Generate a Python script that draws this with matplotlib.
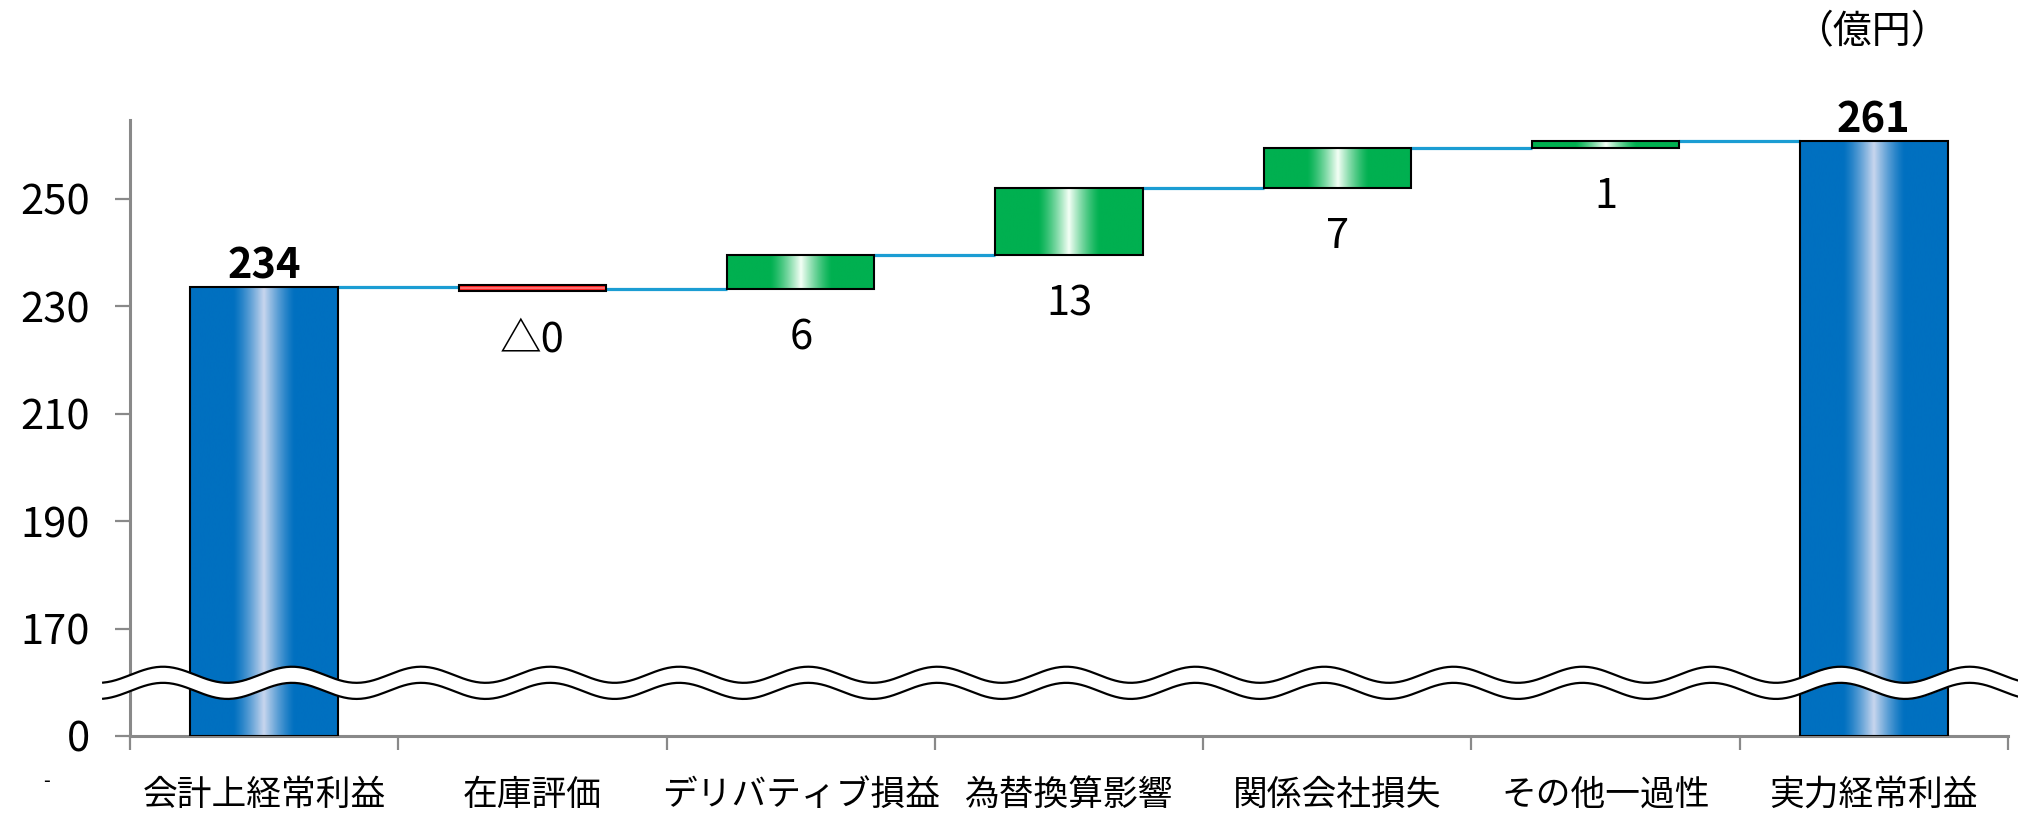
import numpy as np
import matplotlib.pyplot as plt
from matplotlib.colors import to_rgb

plt.rcParams['font.family'] = ['Noto Sans CJK JP', 'DejaVu Sans']

# 経常利益の増減（億円）
categories = ['会計上経常利益', '在庫評価', 'デリバティブ損益', '為替換算影響',
              '関係会社損失', 'その他一過性', '実力経常利益']
start_value = 233.6
changes = [-0.4, 6.3, 12.6, 7.4, 1.2]
y_ticks = [150, 170, 190, 210, 230, 250]
y_tick_labels = ['0', '170', '190', '210', '230', '250']

axis_floor = 150          # 軸の省略部分: 0 をここに置く
bar_w = 0.55
min_h = 1.1               # 小さい増減でも色が見える厚さ
BLUE, BLUE_L = '#0070C0', '#C8D6EE'
GREEN, GREEN_L = '#00B050', '#F4FFF6'
RED, RED_L = '#FF1F1F', '#FFB8B8'
AXIS_GRAY = '#898989'


def shade(ax, x0, x1, y0, y1, base, light, vertical=False):
    t = np.linspace(0, 1, 256)
    w = np.clip(1 - np.abs(t - 0.5) / 0.21, 0, 1) ** 1.3
    rgb = np.array(to_rgb(base))[None, :] * (1 - w[:, None]) + np.array(to_rgb(light))[None, :] * w[:, None]
    img = rgb[:, None, :] if vertical else rgb[None, :, :]
    ax.imshow(img, extent=[x0, x1, y0, y1], origin='lower', aspect='auto',
              interpolation='bilinear', zorder=2)


fig = plt.figure(figsize=(20.18, 8.16), dpi=100)
ax = fig.add_axes([130 / 2018, 1 - 736 / 816, 1878 / 2018, 616 / 816])

levels = start_value + np.concatenate([[0], np.cumsum(changes)])
final_value = levels[-1]
n = len(categories)

# 合計の棒
for i, val in [(0, start_value), (n - 1, final_value)]:
    shade(ax, i - bar_w / 2, i + bar_w / 2, axis_floor, val, BLUE, BLUE_L)
    ax.bar(i, val - axis_floor, bottom=axis_floor, width=bar_w, fill=False,
           edgecolor='black', lw=1.5, zorder=3)
    ax.annotate(f'{val:.0f}', (i, val), xytext=(0, 0), textcoords='offset points',
                ha='center', va='bottom', fontsize=30, fontweight='bold')

# 増減の棒
for k, d in enumerate(changes):
    i = k + 1
    lo, hi = sorted([levels[k], levels[k + 1]])
    if hi - lo < min_h:
        mid = (lo + hi) / 2
        lo, hi = mid - min_h / 2, mid + min_h / 2
    if d < 0:
        shade(ax, i - bar_w / 2, i + bar_w / 2, lo, hi, RED, RED_L, vertical=True)
        label = f'△{abs(d):.0f}'
    else:
        shade(ax, i - bar_w / 2, i + bar_w / 2, lo, hi, GREEN, GREEN_L)
        label = f'{d:.0f}'
    ax.bar(i, hi - lo, bottom=lo, width=bar_w, fill=False,
           edgecolor='black', lw=1.5, zorder=3)
    ax.annotate(label, (i, lo), xytext=(0, -35), textcoords='offset points',
                ha='center', va='center', fontsize=30)

# つなぎ線
for i in range(n - 1):
    ax.plot([i + bar_w / 2, i + 1 - bar_w / 2], [levels[min(i, n - 2)]] * 2,
            color='#1B9DD3', lw=2.3, zorder=1, solid_capstyle='butt')

# 省略の波線
xs = np.linspace(-0.6, 6.54, 900)
phase = 2 * np.pi * (xs + 0.377) / 0.481
upper = 161.4 + 1.5 * np.cos(phase)
lower = 158.4 + 1.5 * np.cos(phase)
ax.fill_between(xs, lower, upper, color='white', zorder=5, clip_on=False, lw=0)
ax.plot(xs, upper, color='black', lw=1.6, zorder=6, clip_on=False)
ax.plot(xs, lower, color='black', lw=1.6, zorder=6, clip_on=False)

ax.set_xlim(-0.5, n - 0.5)
ax.set_ylim(axis_floor, 264.7)

ax.set_yticks(y_ticks)
ax.set_yticklabels(y_tick_labels, fontsize=30)
ax.tick_params(axis='y', length=11, width=1.6, color=AXIS_GRAY, pad=18)

ax.set_xticks(range(n))
ax.set_xticklabels(categories, fontsize=25)
ax.set_xticks(np.arange(-0.5, n, 1), minor=True)
ax.tick_params(axis='x', which='major', length=0, pad=30)
ax.tick_params(axis='x', which='minor', length=10, width=1.6, color=AXIS_GRAY)

for side in ['top', 'right']:
    ax.spines[side].set_visible(False)
for side in ['left', 'bottom']:
    ax.spines[side].set_color(AXIS_GRAY)
    ax.spines[side].set_linewidth(2.2)

fig.text(1873 / 2018, 1 - 32 / 816, '（億円）', ha='center', va='center', fontsize=28)
fig.text(47 / 2018, 1 - 782 / 816, '-', ha='center', va='center', fontsize=14)

fig.savefig('out.png', dpi=100)
